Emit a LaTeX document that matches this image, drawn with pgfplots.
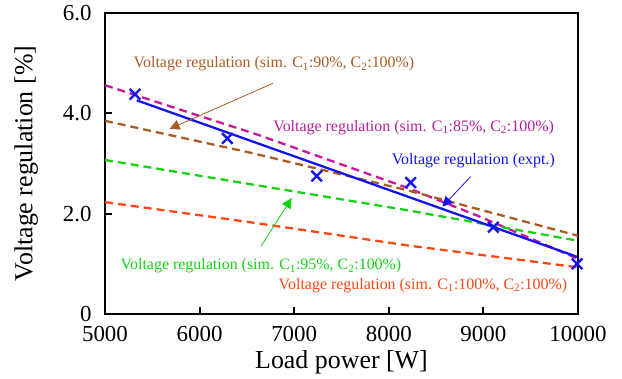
\documentclass[border=0pt]{standalone}
\usepackage{pgfplots}
\pgfplotsset{compat=1.18}
\usepackage{fontspec}
\setmainfont{Liberation Serif}
\usetikzlibrary{arrows.meta}
\definecolor{cbrown}{RGB}{170,90,35}
\definecolor{cmag}{RGB}{205,20,160}
\definecolor{cmagt}{RGB}{180,30,160}
\definecolor{cgreen}{RGB}{20,210,20}
\definecolor{cred}{RGB}{255,70,20}
\definecolor{cblue}{RGB}{20,20,240}
\begin{document}
\begin{tikzpicture}
\begin{axis}[name=ax,
  scale only axis, width=473bp, height=301bp,
  xmin=5000, xmax=10000, ymin=0, ymax=6,
  xtick={5000,6000,7000,8000,9000,10000},
  scaled x ticks=false,
  ytick={0,2,4,6}, yticklabels={0,2.0,4.0,6.0},
  xtick pos=bottom, ytick pos=left,
  tick align=inside, major tick length=7bp,
  every tick/.style={black, line width=2pt},
  axis line style={line width=2.5pt},
  /pgf/number format/set thousands separator={},
  /pgf/number format/assume math mode=true,
  tick label style={font=\fontsize{23}{27}\selectfont},
  label style={font=\fontsize{26}{30}\selectfont},
  xticklabel style={yshift=-9bp},
  yticklabel style={xshift=-10bp},
  xlabel={Load power [W]}, ylabel={Voltage regulation [\%]},
  xlabel style={yshift=-2bp}, ylabel style={yshift=18bp},
  clip=false,
]
\addplot[cmag, line width=2.3pt, dash pattern=on 8bp off 5bp] coordinates {(5000,4.56)(6620,3.57)(8189,2.52)(8950,1.95)(10000,1.10)};
\addplot[cbrown, line width=2.3pt, dash pattern=on 8bp off 5bp] coordinates {(5000,3.85)(6550,3.21)(8189,2.47)(10000,1.56)};
\addplot[cgreen, line width=2.3pt, dash pattern=on 8bp off 5bp] coordinates {(5000,3.07)(6560,2.58)(8189,2.07)(10000,1.46)};
\addplot[cred, line width=2.3pt, dash pattern=on 8bp off 5bp] coordinates {(5000,2.23)(6533,1.83)(8189,1.37)(10000,0.93)};
\addplot[cblue, line width=2.3pt] coordinates {(5335,4.26)(9990,1.14)};
\addplot[cblue, only marks, mark=x, mark size=7.5bp, mark options={line width=2.4pt}] coordinates {(5317,4.38)(6293,3.50)(7238,2.75)(8231,2.62)(9105,1.73)(9990,1.00)};
% annotations
\node[cbrown, font=\fontsize{16}{19}\selectfont] at (axis cs:6786,4.99) {Voltage regulation (sim. C\textsubscript{1}:90\%, C\textsubscript{2}:100\%)};
\draw[cbrown, line width=0.8pt, -{Triangle[length=10bp,width=10bp]}] (axis cs:6776,4.60) -- (axis cs:5683,3.69);
\node[cmagt, font=\fontsize{16}{19}\selectfont] at (axis cs:8262,3.72) {Voltage regulation (sim. C\textsubscript{1}:85\%, C\textsubscript{2}:100\%)};
\node[cblue, font=\fontsize{16}{19}\selectfont] at (axis cs:8893,3.05) {Voltage regulation (expt.)};
\draw[cblue, line width=0.8pt, -{Triangle[length=10bp,width=10bp]}] (axis cs:8866,2.74) -- (axis cs:8566,2.14);
\node[cgreen, font=\fontsize{16}{19}\selectfont] at (axis cs:6649,0.96) {Voltage regulation (sim. C\textsubscript{1}:95\%, C\textsubscript{2}:100\%)};
\draw[cgreen, line width=0.8pt, -{Triangle[length=10bp,width=10bp]}] (axis cs:6649,1.35) -- (axis cs:6973,2.31);
\node[cred, font=\fontsize{16}{19}\selectfont] at (axis cs:8361,0.57) {Voltage regulation (sim. C\textsubscript{1}:100\%, C\textsubscript{2}:100\%)};
\end{axis}
\pgfresetboundingbox
\path[use as bounding box] (ax.south west) ++(-105bp,-65bp) rectangle ++(622bp,379bp);
\end{tikzpicture}
\end{document}
